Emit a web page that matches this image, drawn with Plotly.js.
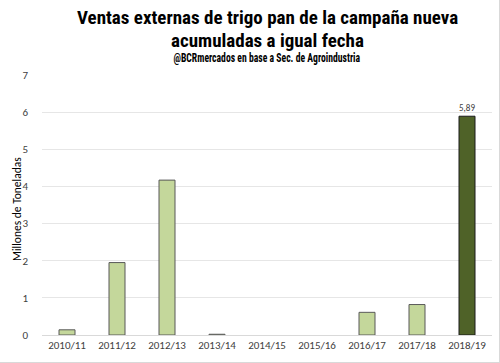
<!DOCTYPE html>
<html><head><meta charset="utf-8">
<script src="https://cdn.plot.ly/plotly-3.0.1.min.js"></script>
<style>html,body{margin:0;padding:0;background:#fff}#c{width:499px;height:362px;border-right:1px solid #d9d9d9;border-bottom:1px solid #d9d9d9}</style>
</head><body><div id="c"></div>
<script>
const campaigns = ["2010/11","2011/12","2012/13","2013/14","2014/15","2015/16","2016/17","2017/18","2018/19"];
const values = [0.14, 1.95, 4.17, 0.02, 0, 0, 0.61, 0.82, 5.89];
const labels = ["","","","","","","","","5,89"];
const yTicks = [0,1,2,3,4,5,6,7];
const titleLine1 = "Ventas externas de trigo pan de la campaña nueva";
const titleLine2 = "acumuladas a igual fecha";
const subtitleText = "@BCRmercados en base a Sec. de Agroindustria";
const yTitleText = "Millones de Toneladas";

const last = campaigns.length - 1;
const fills = campaigns.map((c,i)=> i===last ? "#4f6228" : "#c4d79b");
const lines = campaigns.map((c,i)=> i===last ? "#1a1a1a" : "#595959");
const lineWidths = values.map(v => v > 0 ? 1 : 0);

const condensed = "'Roboto Condensed', 'Open Sans Condensed', 'DejaVu Sans Condensed', sans-serif";
const body = "Carlito, 'Open Sans', sans-serif";
const PLOT_TOP = 75, PLOT_H = 260;
const yFromPx = px => 1 + (PLOT_TOP - px) / PLOT_H;

function headAnn(text, px, size) {
  return {text: "<b>" + text + "</b>", xref: "paper", yref: "paper", x: 0.5, y: yFromPx(px),
    xanchor: "center", yanchor: "middle", showarrow: false,
    font: {family: condensed, size: size, color: "#000"}};
}

Plotly.newPlot("c", [{
  type: "bar",
  x: campaigns,
  y: values,
  text: labels,
  textposition: "outside",
  cliponaxis: false,
  textfont: {family: body, size: 12, color: "#404040"},
  marker: {color: fills, line: {color: lines, width: lineWidths}},
  hoverinfo: "skip"
}], {
  width: 499, height: 362,
  margin: {l: 42, r: 7, t: PLOT_TOP, b: 27},
  paper_bgcolor: "#fff", plot_bgcolor: "#fff",
  bargap: 0.68,
  showlegend: false,
  font: {family: body, color: "#595959", size: 11},
  annotations: [
    headAnn(titleLine1, 18, 19),
    headAnn(titleLine2, 40.5, 19),
    headAnn(subtitleText, 57.5, 12),
    {text: yTitleText, xref: "paper", yref: "paper", x: -25/450, y: 0.485,
     xanchor: "center", yanchor: "middle", textangle: -90, showarrow: false,
     font: {family: body, size: 11.5, color: "#000"}}
  ],
  xaxis: {
    type: "category",
    tickfont: {size: 11, color: "#404040"},
    showgrid: false, zeroline: false,
    showline: true, linecolor: "#d9d9d9", linewidth: 1,
    ticks: ""
  },
  yaxis: {
    range: [0, 7], tickvals: yTicks,
    showgrid: true, gridcolor: "#e6e6e6", gridwidth: 1,
    zeroline: false, showline: false,
    tickfont: {size: 11, color: "#404040"},
    ticklabelstandoff: 13
  }
}, {displayModeBar: false, staticPlot: true}).then(gd => {
  // Narrow the heading texts horizontally to mimic the condensed typeface
  const targetWidths = [388, 198, 187];
  gd.querySelectorAll("text.annotation-text").forEach((t, i) => {
    if (!targetWidths[i]) return;
    const bb = t.getBBox();
    if (!bb.width) return;
    const sx = Math.min(1, targetWidths[i] / bb.width);
    const cx = bb.x + bb.width / 2;
    t.setAttribute("transform", `translate(${cx},0) scale(${sx},1) translate(${-cx},0)`);
  });
});
</script></body></html>
